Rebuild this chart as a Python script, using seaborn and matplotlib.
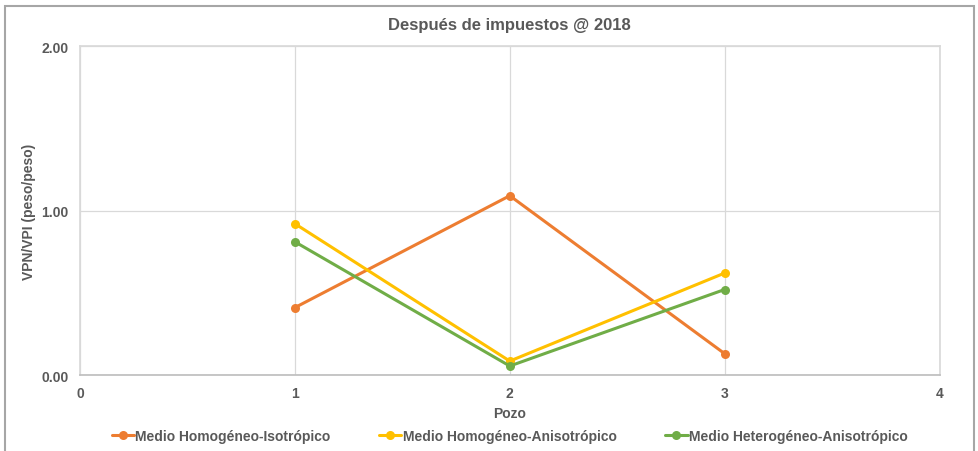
import matplotlib
matplotlib.use("Agg")
import matplotlib.pyplot as plt
import seaborn as sns
import pandas as pd
from matplotlib.patches import Rectangle

# Data: NPV/investment ratio per well, after taxes @ 2018
pozos = [1, 2, 3]
homog_isotropico = [0.41, 1.09, 0.13]
homog_anisotropico = [0.92, 0.085, 0.62]
heterog_anisotropico = [0.81, 0.055, 0.52]
series_names = ["Medio Homogéneo-Isotrópico",
                "Medio Homogéneo-Anisotrópico",
                "Medio Heterogéneo-Anisotrópico"]
series_colors = ["#ED7D31", "#FFC000", "#70AD47"]
x_ticks = [0, 1, 2, 3, 4]
y_ticks = [0.0, 1.0, 2.0]

rows = []
for name, vals in zip(series_names,
                      [homog_isotropico, homog_anisotropico, heterog_anisotropico]):
    for p, v in zip(pozos, vals):
        rows.append({"Pozo": p, "VPN/VPI": v, "Serie": name})
df = pd.DataFrame(rows)

sns.set_theme(style="white")
plt.rcParams["font.family"] = ["Liberation Sans", "DejaVu Sans"]
text_color = "#595959"

fig = plt.figure(figsize=(9.79, 4.52), dpi=100)
ax = fig.add_axes([0.0817, 0.168, 0.878, 0.728])

sns.lineplot(data=df, x="Pozo", y="VPN/VPI", hue="Serie",
             hue_order=series_names, palette=series_colors,
             marker="o", markersize=6.5, markeredgewidth=0,
             linewidth=2.2, ax=ax, legend=True)

ax.set_xlim(0, 4)
ax.set_ylim(0, 2)
ax.set_xticks(x_ticks)
ax.set_yticks(y_ticks)
ax.set_xticklabels([str(t) for t in x_ticks])
ax.set_yticklabels([f"{t:.2f}" for t in y_ticks])
ax.tick_params(axis="both", length=0, labelsize=10, colors=text_color, pad=8)
for lbl in ax.get_xticklabels() + ax.get_yticklabels():
    lbl.set_fontweight("bold")

ax.grid(True, color="#D9D9D9", linewidth=0.9)
for side in ["top", "right", "left"]:
    ax.spines[side].set_color("#D9D9D9")
ax.spines["bottom"].set_color("#BFBFBF")

ax.set_xlabel("Pozo", fontsize=10, fontweight="bold", color=text_color, labelpad=4)
ax.set_ylabel("VPN/VPI (peso/peso)", fontsize=10, fontweight="bold",
              color=text_color, labelpad=4)
ax.set_title("Después de impuestos @ 2018", fontsize=12, fontweight="bold",
             color=text_color, pad=12)

leg = ax.legend(loc="center", bbox_to_anchor=(0.5, -0.185), ncol=3,
                frameon=False, prop={"size": 10, "weight": "bold"},
                handlelength=1.6, handletextpad=0.1, columnspacing=3.5)
for t in leg.get_texts():
    t.set_color(text_color)

# Outer chart frame
fig.patches.append(Rectangle((0.005, -0.05), 0.99, 1.035, transform=fig.transFigure,
                             fill=False, edgecolor="#A6A6A6", linewidth=1.5))

fig.savefig("out.png", dpi=100)
